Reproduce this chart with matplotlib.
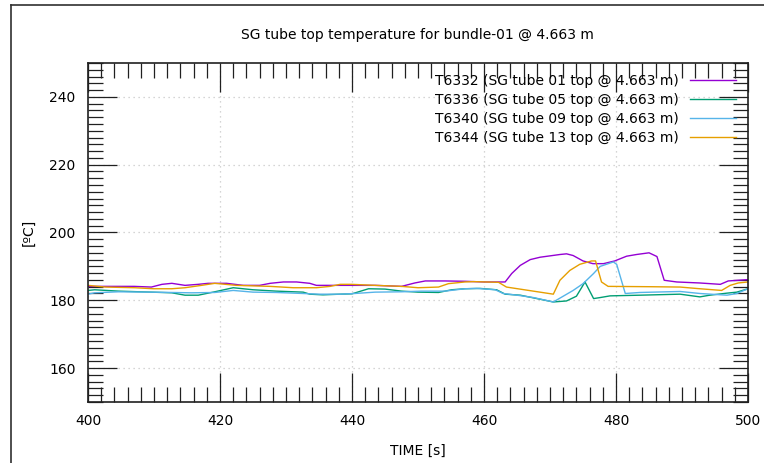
import numpy as np
import matplotlib.pyplot as plt
from matplotlib.lines import Line2D
from matplotlib.ticker import MultipleLocator

plt.rcParams['font.family'] = ['DejaVu Sans']

# T6332 (tube 01)
t_6332 = [400, 403, 407, 409.6, 411.2, 412.7, 414.7, 416.7, 418.2, 421, 423.5, 426, 427.6,
          429.6, 431.6, 433.6, 434.6, 436.7, 440, 443.5, 447.5, 449.5, 451.1, 454.1, 457.1,
          460, 463.2, 464.2, 465.5, 467, 468.5, 470, 471.5, 472.5, 473.5, 475, 476.5, 478.1,
          479.8, 481.6, 483.1, 485.0, 486.2, 487.3, 489.2, 492.7, 495.8, 497, 500]
T6332 = [184.1, 184.1, 184.1, 183.9, 184.7, 185.0, 184.4, 184.7, 185.0, 185.0, 184.4, 184.4, 185.0,
         185.4, 185.4, 185.0, 184.4, 184.4, 184.4, 184.4, 184.1, 185.1, 185.7, 185.7, 185.6,
         185.4, 185.4, 187.9, 190.3, 192.0, 192.7, 193.1, 193.5, 193.7, 193.2, 191.6, 190.8, 190.8,
         191.6, 193.0, 193.5, 194.0, 192.9, 185.9, 185.4, 185.1, 184.7, 185.7, 186.1]

# T6336 (tube 05)
t_6336 = [400, 401, 404.6, 409.6, 412.7, 414.7, 416.7, 419.2, 422, 425, 428.5, 432.6, 433.6,
          435.6, 438.2, 440, 442.5, 445, 447.5, 450, 453.1, 455.1, 457.1, 459.4, 461.9, 463.2,
          465.5, 468, 470.5, 472.5, 474, 475.3, 476.6, 477.6, 479.1, 483.6, 489.7, 492.7, 494.2,
          496.8, 498.3, 500]
T6336 = [182.9, 183.1, 182.7, 182.4, 182.2, 181.5, 181.5, 182.5, 183.7, 183.1, 182.7, 182.4, 181.8,
         181.6, 181.8, 181.9, 183.4, 183.3, 182.7, 182.4, 182.3, 183.1, 183.4, 183.5, 183.1, 181.8,
         181.5, 180.5, 179.5, 179.8, 181.2, 185.4, 180.5, 180.8, 181.3, 181.5, 181.8, 181.0, 181.5,
         182.1, 182.4, 183.4]

# T6340 (tube 09)
t_6340 = [400, 401, 404.6, 409.6, 412.7, 415.7, 419.2, 422, 425, 428.5, 432.6, 435, 438.2,
          440.4, 443.5, 447.5, 450.5, 454.1, 457.1, 458.9, 461.7, 462.9, 465, 467.5, 470.5, 472,
          473.5, 475, 476.6, 477.6, 479.6, 480.1, 481.4, 483.6, 489.7, 492.7, 496.8, 498.3, 500]
T6340 = [181.8, 182.2, 182.5, 182.4, 182.3, 182.2, 182.3, 182.9, 182.4, 182.3, 182.0, 181.8, 181.8,
         182.0, 182.4, 182.5, 182.7, 182.7, 183.4, 183.5, 183.1, 182.0, 181.5, 180.8, 179.5, 181.2,
         182.9, 184.9, 187.9, 190.0, 191.3, 190.6, 182.0, 182.3, 182.6, 182.0, 181.5, 182.0, 183.4]

# T6344 (tube 13)
t_6344 = [400, 402.6, 407.1, 409.9, 412.7, 414.7, 417.2, 419.2, 422.5, 427.6, 431.1, 434.6,
          436.7, 438.2, 439.9, 443.5, 447.5, 450, 453.1, 454.6, 457.1, 458.4, 462.2, 463.4,
          470.5, 471.5, 473, 474.5, 476.3, 476.9, 477.8, 478.8, 485.2, 489.7, 492.7, 496, 497.3,
          498.5, 500]
T6344 = [184.4, 183.9, 183.7, 183.4, 183.4, 183.7, 184.4, 185.0, 184.4, 184.1, 183.7, 183.7,
         184.1, 184.7, 184.7, 184.4, 184.1, 183.7, 183.9, 184.9, 185.4, 185.5, 185.3, 183.9,
         181.8, 185.9, 188.8, 190.6, 191.6, 191.6, 185.4, 184.1, 184.0, 183.9, 183.4, 182.9, 184.4,
         185.1, 185.4]

labels = ['T6332 (SG tube 01 top @ 4.663 m)', 'T6336 (SG tube 05 top @ 4.663 m)',
          'T6340 (SG tube 09 top @ 4.663 m)', 'T6344 (SG tube 13 top @ 4.663 m)']
colors = ['#9400d3', '#009e73', '#56b4e9', '#e69f00']

fs = 10

fig = plt.figure(figsize=(7.64, 4.63), dpi=100)
ax = fig.add_axes([0.1152, 0.1318, 0.8639, 0.7322])

series = [(t_6332, T6332), (t_6336, T6336), (t_6340, T6340), (t_6344, T6344)]
for (t, T), lab, c in zip(series, labels, colors):
    ax.plot(t, T, color=c, lw=1.0, label=lab)

ax.set_xlim(400, 500)
ax.set_ylim(150, 250)
ax.xaxis.set_major_locator(MultipleLocator(20))
ax.xaxis.set_minor_locator(MultipleLocator(2))
ax.yaxis.set_major_locator(MultipleLocator(20))
ax.yaxis.set_minor_locator(MultipleLocator(2))
ax.set_yticks([160, 180, 200, 220, 240])
ax.tick_params(which='both', direction='in', top=True, right=True, width=0.9,
               color='#202020', labelsize=fs, pad=9)
ax.tick_params(which='major', length=21)
ax.tick_params(which='minor', length=10.5)
ax.grid(True, which='major', color='#c8c8c8', linestyle=(0, (1, 3)), lw=0.9)
for s in ax.spines.values():
    s.set_linewidth(1.2)
    s.set_color('#202020')

ax.set_xlabel('TIME [s]', fontsize=fs, labelpad=11)
ax.set_ylabel('[ºC]', fontsize=fs, labelpad=10)
fig.text(0.547, 0.924, 'SG tube top temperature for bundle-01 @ 4.663 m',
         ha='center', va='center', fontsize=fs)

ax.legend(loc='upper right', bbox_to_anchor=(0.982, 0.967), frameon=False, markerfirst=False,
          fontsize=fs, handlelength=3.3, labelspacing=0.36, borderpad=0, borderaxespad=0,
          handletextpad=0.85)

# outer frame of the window
fig.add_artist(Line2D([0.0144, 0.0144], [0, 0.989], color='#303030', lw=1.2))
fig.add_artist(Line2D([0.0144, 1], [0.989, 0.989], color='#303030', lw=1.2))

fig.savefig('out.png', dpi=100)
